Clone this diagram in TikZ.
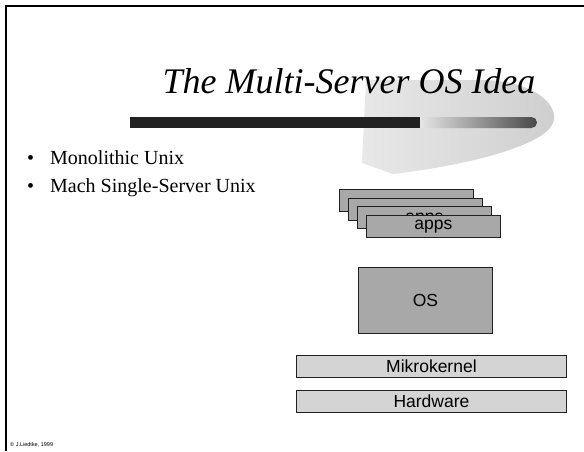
\documentclass[tikz,border=0pt]{standalone}
\usepackage{fontspec}
\setmainfont{Liberation Serif}
\setsansfont{Liberation Sans}
\definecolor{boxgray}{RGB}{168,168,168}
\definecolor{lightbox}{RGB}{212,212,212}
\definecolor{edgegray}{RGB}{32,32,32}
\definecolor{barDark}{RGB}{34,34,34}
\definecolor{swooshL}{RGB}{232,232,232}
\definecolor{swooshR}{RGB}{206,206,206}
\tikzset{
  layerbox/.style={draw=edgegray, line width=0.9pt, anchor=north west, inner sep=0pt,
    font=\sffamily\fontsize{17.5}{20}\selectfont},
  appbox/.style={layerbox, fill=boxgray, minimum width=134pt, minimum height=22pt},
  bullettext/.style={anchor=base west, inner sep=0pt, font=\fontsize{20}{24}\selectfont},
}
\begin{document}
\begin{tikzpicture}[x=1pt,y=-1pt]
\useasboundingbox (0,0) rectangle (584,451);
% frame
\draw[line width=2pt, black] (584,6) -- (6,6) -- (6,451);
% swoosh
\shade[left color=swooshL, right color=swooshR]
  (366,80) -- (480,80) .. controls (535,80) and (560,106) .. (553,123)
  .. controls (545,145) and (470,165) .. (393,174) -- (362,163) -- cycle;
% bar
\fill[barDark] (130,117) rectangle (420,128);
\shade[left color=black!10, right color=black!72]
  (420,117) -- (531.5,117) arc[start angle=90, end angle=-90, radius=5.5pt] -- (420,128) -- cycle;
% title
\node[anchor=base, inner sep=0pt, font=\itshape\fontsize{36}{40}\selectfont] (title) at (349,93) {The Multi-Server OS Idea};
% bullets
\node[bullettext] (b1) at (27,164) {•};
\node[bullettext] (t1) at (50,164) {Monolithic Unix};
\node[bullettext] (b2) at (27,192) {•};
\node[bullettext] (t2) at (50,192) {Mach Single-Server Unix};
% apps stack
\node[appbox] (apps1) at (339,189) {};
\node[appbox] (apps2) at (348,197.7) {};
\node[appbox, text height=13pt, text depth=3.7pt] (apps3) at (357,206.4) {apps};
\node[appbox] (apps4) at (366,215) {apps};
% OS
\node[layerbox, fill=boxgray, minimum width=134pt, minimum height=66pt] (os) at (358,267) {OS};
% Mikrokernel, Hardware
\node[layerbox, fill=lightbox, minimum width=270pt, minimum height=22pt] (mk) at (296,355) {Mikrokernel};
\node[layerbox, fill=lightbox, minimum width=270pt, minimum height=22pt] (hw) at (296,390) {Hardware};
% footer
\node[anchor=base west, inner sep=0pt, font=\sffamily\fontsize{5.5}{6}\selectfont] (copy) at (10,446) {© J.Liedtke, 1999};
\end{tikzpicture}
\end{document}
